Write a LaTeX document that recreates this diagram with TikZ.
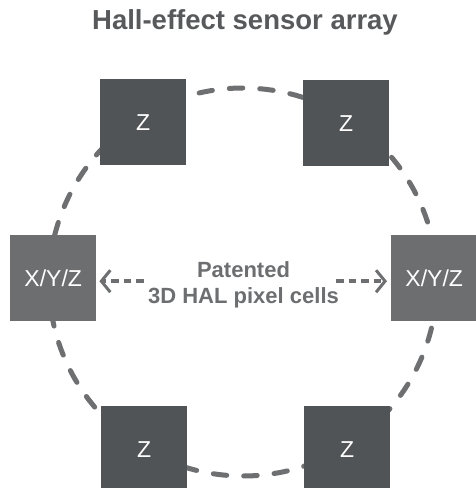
\documentclass[tikz,border=0pt]{standalone}
\usepackage{fontspec}
\setmainfont{Liberation Sans}
\usetikzlibrary{arrows.meta}
\definecolor{zbox}{HTML}{515456}
\definecolor{xbox}{HTML}{6D6E70}
\definecolor{ringc}{HTML}{6E6F71}
\definecolor{titlec}{HTML}{58595B}
\definecolor{labc}{HTML}{6D6E70}
\begin{document}
\begin{tikzpicture}[x=1pt,y=-1pt,
 sensor/.style={minimum width=86pt,minimum height=86pt,inner sep=0pt,text=white,font=\fontsize{23}{23}\selectfont,anchor=north west},
 zsens/.style={sensor,fill=zbox},
 xsens/.style={sensor,fill=xbox},
 ringline/.style={draw=ringc,line width=5pt,line cap=round,dash pattern=on 13.5pt off 17pt},
 arr/.style={draw=ringc,line width=3.5pt,dash pattern=on 7.5pt off 5pt,-{Straight Barb[length=9pt,width=22pt,line width=3pt]}}
]
\useasboundingbox (0,0) rectangle (476,488);
\clip (0,0) rectangle (476,488);
\node[font=\bfseries\fontsize{27.5}{27.5}\selectfont,text=titlec] (title) at (245,22) {Hall-effect sensor array};
\draw[ringline] (243,282) circle [radius=194pt];
\node[zsens] (zTL) at (100,79) {Z};
\node[zsens] (zTR) at (303,80) {Z};
\node[xsens] (xL) at (10,235) {X/Y/Z};
\node[xsens] (xR) at (391,235) {X/Y/Z};
\node[zsens] (zBL) at (101,406) {Z};
\node[zsens] (zBR) at (304,406) {Z};
\node[font=\bfseries\fontsize{22}{26}\selectfont,text=labc,align=center,inner sep=0pt] (ctext) at (243.5,285) {Patented\\3D HAL pixel cells};
\draw[arr] ([xshift=-4pt,yshift=-3pt]ctext.west |- xL.east) -- ([xshift=3pt,yshift=-3pt]xL.east);
\draw[arr] ([xshift=-3pt,yshift=-3pt]ctext.east |- xR.west) -- ([xshift=-4pt,yshift=-3pt]xR.west);
\end{tikzpicture}
\end{document}
